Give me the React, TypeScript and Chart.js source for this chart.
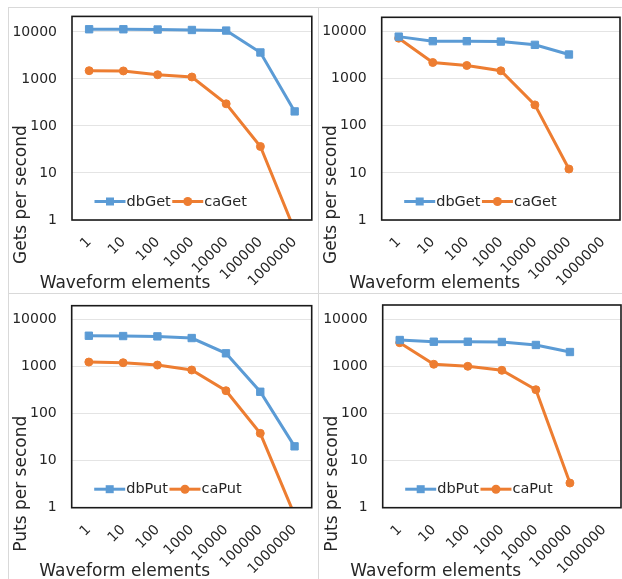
import React, { useEffect, useRef } from 'react';
import { Chart, registerables } from 'chart.js';

Chart.register(...registerables);

// ---- data ----
const categories = ['1', '10', '100', '1000', '10000', '100000', '1000000'];
const yTickValues = [1, 10, 100, 1000, 10000];

const dbGetA = [11400, 11400, 11250, 11000, 10700, 3660, 204];
const caGetA = [1500, 1480, 1230, 1100, 296, 36.6, 0.6];
const dbGetB = [7830, 6270, 6270, 6150, 5240, 3270, null];
const caGetB = [7250, 2210, 1910, 1475, 278, 12.1, null];
const dbPutA = [4490, 4420, 4350, 4010, 1900, 290, 20.1];
const caPutA = [1240, 1200, 1070, 840, 305, 38, 0.7];
const dbPutB = [3630, 3340, 3340, 3300, 2850, 2020, null];
const caPutB = [3180, 1110, 1005, 826, 320, 3.34, null];

const BLUE = '#5B9BD5';
const ORANGE = '#ED7D31';
const TEXT = '#262626';
const FONT = "'DejaVu Sans', Verdana, sans-serif";

type PanelCfg = {
  left: number;
  top: number;
  yTitle: string;
  names: [string, string];
  series: [(number | null)[], (number | null)[]];
  yMax: number;
  padTop: number;
  padRight: number;
  yAxisWidth: number;
  xAxisHeight: number;
};

const panels: PanelCfg[] = [
  { left: 8, top: 7, yTitle: 'Gets per second', names: ['dbGet', 'caGet'], series: [dbGetA, caGetA], yMax: 21400, padTop: 8, padRight: 6, yAxisWidth: 63, xAxisHeight: 73 },
  { left: 318, top: 7, yTitle: 'Gets per second', names: ['dbGet', 'caGet'], series: [dbGetB, caGetB], yMax: 20150, padTop: 9.3, padRight: 8, yAxisWidth: 62.7, xAxisHeight: 73 },
  { left: 8, top: 293, yTitle: 'Puts per second', names: ['dbPut', 'caPut'], series: [dbPutA, caPutA], yMax: 19500, padTop: 11.7, padRight: 6.3, yAxisWidth: 62.7, xAxisHeight: 71.3 },
  { left: 318, top: 293, yTitle: 'Puts per second', names: ['dbPut', 'caPut'], series: [dbPutB, caPutB], yMax: 20100, padTop: 11, padRight: 7, yAxisWidth: 63.7, xAxisHeight: 71.3 },
];

const PANEL_W = 311;
const PANEL_H = 287;
const CANVAS_W = PANEL_W - 2;
const CANVAS_H = PANEL_H - 2;

const decorPlugin = {
  id: 'excelDecor',
  afterDatasetsDraw(chart: any, _args: any, opts: any) {
    const { ctx, chartArea: a } = chart;
    ctx.save();
    // plot-area frame
    ctx.strokeStyle = '#1a1a1a';
    ctx.lineWidth = 1.6;
    ctx.strokeRect(a.left, a.top, a.right - a.left, a.bottom - a.top);

    // legend inside plot area
    let x = a.left + 22.5;
    const y = a.bottom - 18.5;
    ctx.font = `14.5px ${FONT}`;
    ctx.textBaseline = 'middle';
    ctx.textAlign = 'left';
    chart.data.datasets.forEach((ds: any) => {
      ctx.strokeStyle = ds.borderColor;
      ctx.lineWidth = 3;
      ctx.beginPath();
      ctx.moveTo(x, y);
      ctx.lineTo(x + 31, y);
      ctx.stroke();
      ctx.fillStyle = ds.backgroundColor;
      const cx = x + 15.5;
      if (ds.pointStyle === 'rect') {
        ctx.fillRect(cx - 4, y - 4, 8, 8);
      } else {
        ctx.beginPath();
        ctx.arc(cx, y, 4.5, 0, Math.PI * 2);
        ctx.fill();
      }
      ctx.fillStyle = TEXT;
      ctx.fillText(ds.label, x + 32, y + 0.5);
      x += 32 + ctx.measureText(ds.label).width + 1.5;
    });

    // axis titles
    ctx.font = `17px ${FONT}`;
    ctx.fillStyle = TEXT;
    ctx.textAlign = 'center';
    ctx.textBaseline = 'middle';
    ctx.fillText(opts.xTitle, a.left + 53, a.bottom + 64);
    ctx.translate(a.left - 50, a.bottom + 44);
    ctx.rotate(-Math.PI / 2);
    ctx.textAlign = 'left';
    ctx.fillText(opts.yTitle, 0, 0);
    ctx.restore();
  },
};

function Panel({ cfg }: { cfg: PanelCfg }) {
  const ref = useRef<HTMLCanvasElement | null>(null);
  useEffect(() => {
    if (!ref.current) return;
    const chart = new Chart(ref.current, {
      type: 'line',
      data: {
        labels: categories,
        datasets: [
          {
            label: cfg.names[0],
            data: cfg.series[0],
            borderColor: BLUE,
            backgroundColor: BLUE,
            borderWidth: 3,
            pointStyle: 'rect',
            pointRadius: 5.2,
            pointBorderWidth: 1,
            pointBorderColor: BLUE,
            tension: 0,
            spanGaps: false,
          },
          {
            label: cfg.names[1],
            data: cfg.series[1],
            borderColor: ORANGE,
            backgroundColor: ORANGE,
            borderWidth: 3,
            pointStyle: 'circle',
            pointRadius: 4,
            pointBorderWidth: 1,
            pointBorderColor: ORANGE,
            tension: 0,
            spanGaps: false,
          },
        ],
      },
      options: {
        responsive: false,
        animation: false,
        devicePixelRatio: 1,
        layout: { padding: { top: cfg.padTop, right: cfg.padRight, left: 0, bottom: 0 } },
        plugins: {
          legend: { display: false },
          tooltip: { enabled: false },
          excelDecor: { xTitle: 'Waveform elements', yTitle: cfg.yTitle },
        } as any,
        scales: {
          x: {
            type: 'category',
            offset: true,
            grid: { display: false, drawTicks: true, tickLength: 11 },
            border: { display: false },
            ticks: {
              minRotation: 45,
              maxRotation: 45,
              autoSkip: false,
              padding: 3,
              color: TEXT,
              font: { family: FONT, size: 14 },
            },
            afterFit: (s: any) => {
              s.height = cfg.xAxisHeight;
            },
          },
          y: {
            type: 'logarithmic',
            min: 1,
            max: cfg.yMax,
            grid: { color: '#e4e4e4', lineWidth: 1, drawTicks: true, tickLength: 15, tickColor: 'rgba(0,0,0,0)' },
            border: { display: false },
            ticks: {
              padding: 0,
              color: TEXT,
              font: { family: FONT, size: 14 },
              callback: (v: any) => String(v),
            },
            afterBuildTicks: (s: any) => {
              s.ticks = yTickValues.map((v) => ({ value: v }));
            },
            afterFit: (s: any) => {
              s.width = cfg.yAxisWidth;
            },
          },
        },
      },
      plugins: [decorPlugin],
    });
    return () => chart.destroy();
  }, [cfg]);

  return (
    <div
      style={{
        position: 'absolute',
        left: cfg.left,
        top: cfg.top,
        width: PANEL_W,
        height: PANEL_H,
        boxSizing: 'border-box',
        border: '1px solid #d9d9d9',
        background: '#fff',
      }}
    >
      <canvas ref={ref} width={CANVAS_W} height={CANVAS_H} style={{ display: 'block', width: CANVAS_W, height: CANVAS_H }} />
    </div>
  );
}

export default function App() {
  return (
    <div
      style={{
        position: 'fixed',
        left: 0,
        top: 0,
        width: 622,
        height: 579,
        overflow: 'hidden',
        background: '#fff',
      }}
    >
      {panels.map((p, i) => (
        <Panel key={i} cfg={p} />
      ))}
    </div>
  );
}
